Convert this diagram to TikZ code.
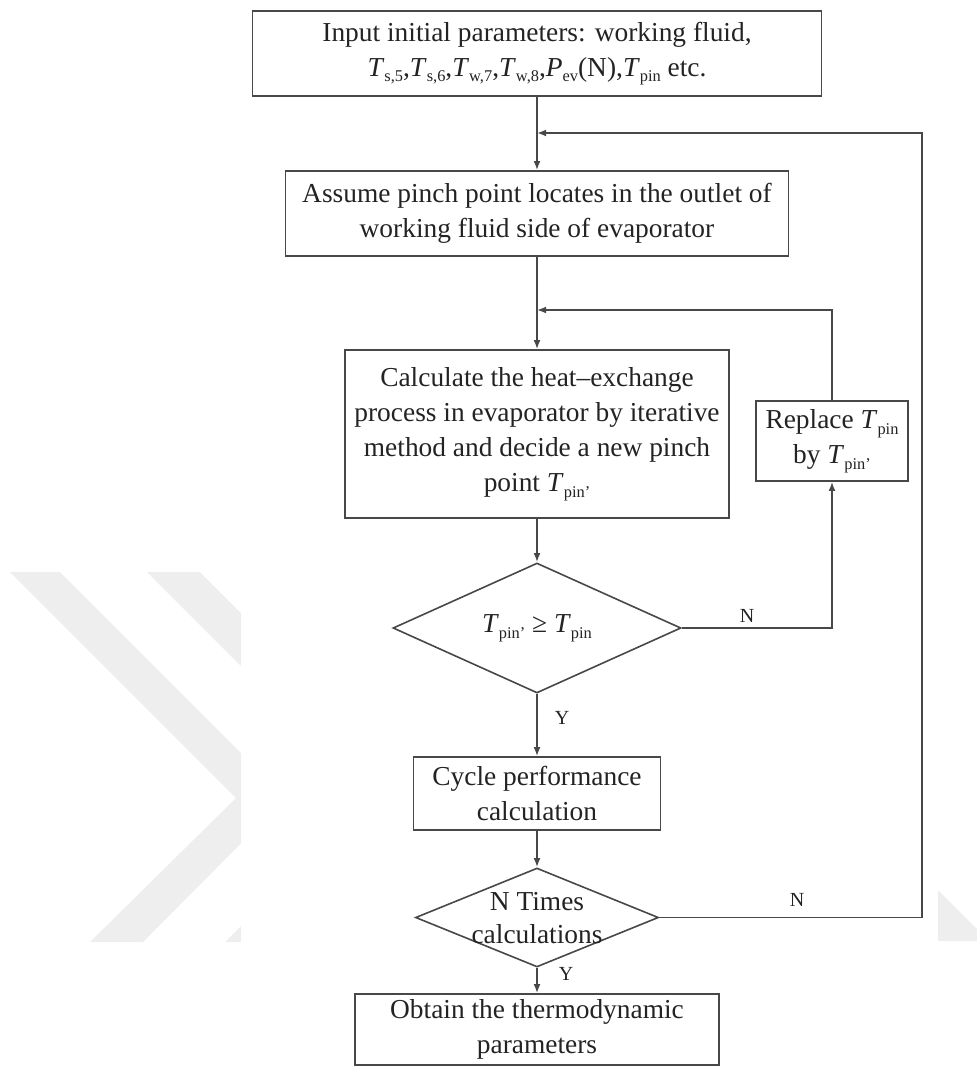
\documentclass[tikz,border=0pt]{standalone}
\usepackage{fontspec}
\setmainfont{Liberation Serif}
\usetikzlibrary{arrows.meta,shapes.geometric}
\definecolor{lineGrey}{RGB}{72,72,72}
\definecolor{textDark}{RGB}{35,35,35}
\definecolor{markGrey}{RGB}{238,238,238}
\newcommand{\subtxt}[1]{\raisebox{-0.45ex}{\fontsize{8.2}{9}\selectfont #1}}
\newcommand{\Tx}[1]{\textit{T}\subtxt{#1}}

\begin{document}
\begin{tikzpicture}[x=0.5pt,y=-0.5pt,
    box/.style={draw=lineGrey, line width=0.8pt, align=center, inner sep=0pt,
      text=textDark, font=\fontsize{13.7}{17.5}\selectfont},
    decision/.style={draw=lineGrey, line width=0.8pt, shape=diamond, inner sep=0pt},
    dtext/.style={align=center, inner sep=0pt, text=textDark,
      font=\fontsize{13.7}{16.5}\selectfont},
    flow/.style={draw=lineGrey, line width=0.8pt, -{Latex[length=4.5pt,width=3.4pt]}},
    lbl/.style={text=textDark, inner sep=0pt, font=\fontsize{10}{12}\selectfont}]
    \useasboundingbox (0,0) rectangle (977,1066);
    % faint watermark behind the chart
    \begin{scope}
      \clip (0,0) rectangle (241,1066);
      \fill[markGrey] (10,572) -- (60,572) -- (286,798) -- (143,942) -- (90,942) -- (236,798) -- cycle;
      \fill[markGrey] (147,572) -- (200,572) -- (424,796) -- (278,942) -- (225,942) -- (371,796) -- cycle;
    \end{scope}
    \fill[markGrey] (938,890) -- (977,929) -- (977,941) -- (938,941) -- cycle;

    % main column
    \node[box, minimum width=284.5pt, minimum height=42.5pt] (input) at (537,53.5)
      {Input initial parameters: working fluid,\\
       \Tx{s,5},\Tx{s,6},\Tx{w,7},\Tx{w,8},\textit{P}\subtxt{ev}(N),\Tx{pin} etc.};
    \node[box, minimum width=251.5pt, minimum height=42.5pt] (assume) at (537,213.5)
      {Assume pinch point locates in the outlet of\\ working fluid side of evaporator};
    \node[box, minimum width=192pt, minimum height=84pt] (calc) at (537,434)
      {Calculate the heat--exchange\\ process in evaporator by iterative\\
       method and decide a new pinch\\ point \Tx{pin'}};
    \node[box, minimum width=76pt, minimum height=40pt] (replace) at (832,441)
      {Replace \Tx{pin}\\ by \Tx{pin'}};
    \node[decision, minimum width=144pt, minimum height=65pt] (chk) at (537,628) {};
    \node[dtext] (chkTxt) at (chk) {\Tx{pin'} ≥ \Tx{pin}};
    \node[box, minimum width=123.5pt, minimum height=36.5pt] (cycle) at (537,793.5)
      {Cycle performance\\ calculation};
    \node[decision, minimum width=121.5pt, minimum height=49.5pt] (ntimes) at (537,917.5) {};
    \node[dtext] (ntimesTxt) at (537,918) {N Times\\ calculations};
    \node[box, minimum width=182pt, minimum height=35.5pt] (obtain) at (537,1029.5)
      {Obtain the thermodynamic\\ parameters};

    % joins of the two loops
    \coordinate (j1) at (537,133);
    \coordinate (j2) at (537,310);
    \coordinate (outer) at (922,133);

    \draw[flow] (input) -- (assume);
    \draw[flow] (assume) -- (calc);
    \draw[flow] (calc) -- (chk);
    \draw[flow] (chk) -- (cycle);
    \draw[flow] (cycle) -- (ntimes);
    \draw[flow] (ntimes) -- (obtain);
    % inner loop: new pinch point
    \draw[flow] (chk.east) -| (replace.south);
    \draw[flow] (replace.north) |- (j2);
    % outer loop: repeat N times
    \draw[flow] (ntimes.east) -| (outer) -- (j1);

    \node[lbl] (n1) at (747,616) {N};
    \node[lbl] (y1) at (562,718) {Y};
    \node[lbl] (n2) at (797,900) {N};
    \node[lbl] (y2) at (566,974) {Y};
  \end{tikzpicture}
\end{document}
